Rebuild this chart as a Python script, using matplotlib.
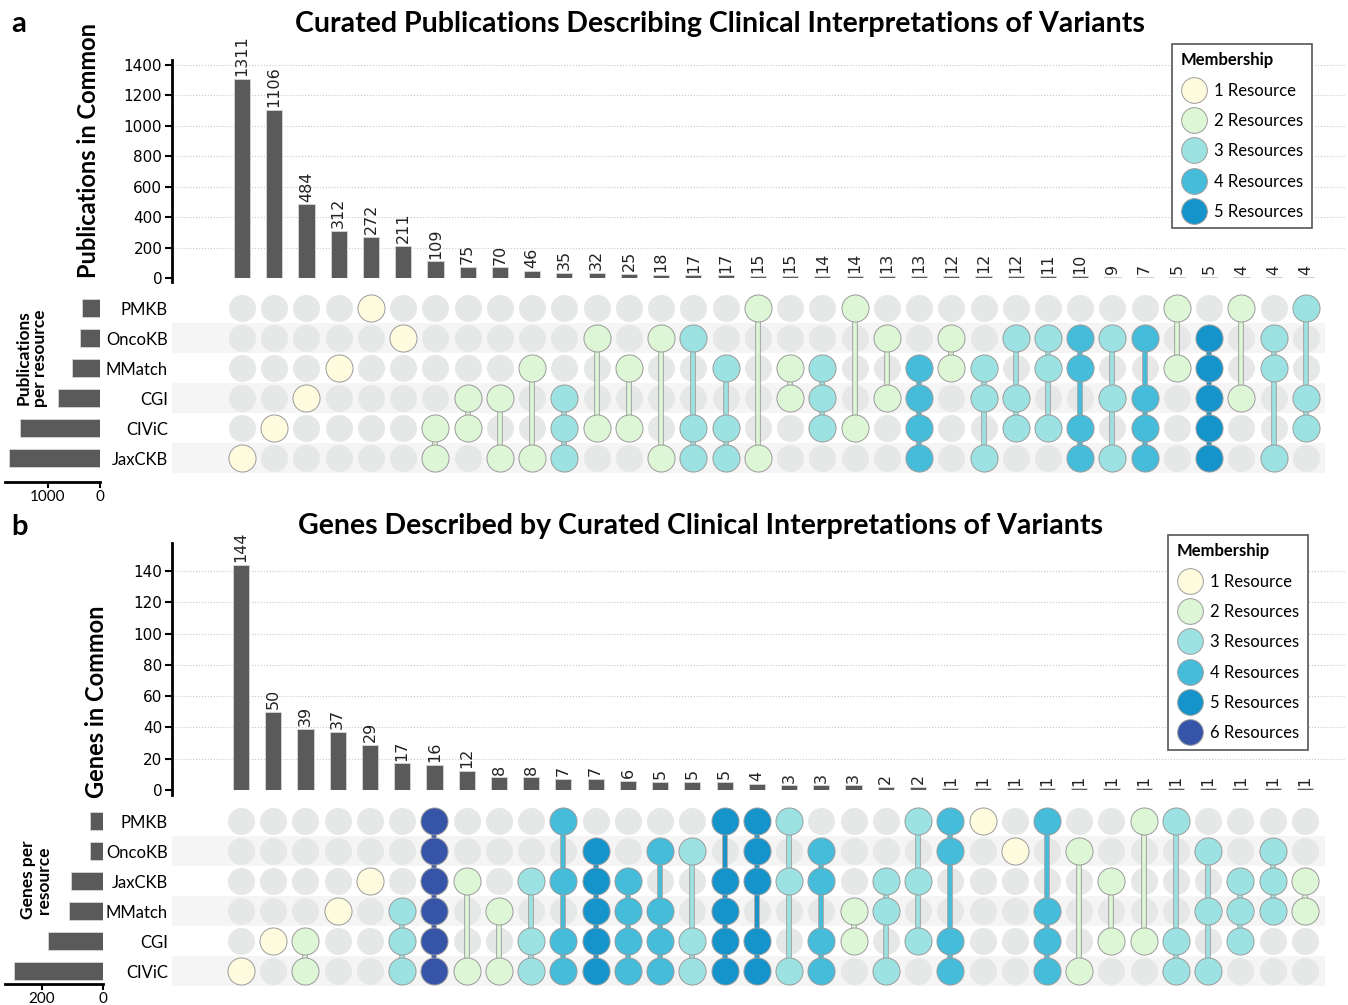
import matplotlib
matplotlib.use('Agg')
import matplotlib.pyplot as plt
from matplotlib.lines import Line2D
from matplotlib.patches import Rectangle

plt.rcParams['font.family'] = ['Lato', 'DejaVu Sans']

W, H = 1348, 1005

# ---- panel a: publications ----
pub_resources = ['PMKB', 'OncoKB', 'MMatch', 'CGI', 'CIViC', 'JaxCKB']
pub_per_resource = [342, 387, 529, 800, 1535, 1742]
pub_counts = [1311, 1106, 484, 312, 272, 211, 109, 75, 70, 46, 35, 32, 25, 18, 17, 17,
              15, 15, 14, 14, 13, 13, 12, 12, 12, 11, 10, 9, 7, 5, 5, 4, 4, 4]
pub_sets = [
    ['JaxCKB'], ['CIViC'], ['CGI'], ['MMatch'], ['PMKB'], ['OncoKB'],
    ['CIViC', 'JaxCKB'], ['CGI', 'CIViC'], ['CGI', 'JaxCKB'], ['MMatch', 'JaxCKB'],
    ['CGI', 'CIViC', 'JaxCKB'], ['OncoKB', 'CIViC'], ['MMatch', 'CIViC'],
    ['OncoKB', 'JaxCKB'], ['OncoKB', 'CIViC', 'JaxCKB'], ['MMatch', 'CIViC', 'JaxCKB'],
    ['PMKB', 'JaxCKB'], ['MMatch', 'CGI'], ['MMatch', 'CGI', 'CIViC'], ['PMKB', 'CIViC'],
    ['OncoKB', 'CGI'], ['MMatch', 'CGI', 'CIViC', 'JaxCKB'], ['OncoKB', 'MMatch'],
    ['MMatch', 'CGI', 'JaxCKB'], ['OncoKB', 'CGI', 'CIViC'], ['OncoKB', 'MMatch', 'CIViC'],
    ['OncoKB', 'MMatch', 'CIViC', 'JaxCKB'], ['OncoKB', 'CGI', 'JaxCKB'],
    ['OncoKB', 'CGI', 'CIViC', 'JaxCKB'], ['PMKB', 'MMatch'],
    ['OncoKB', 'MMatch', 'CGI', 'CIViC', 'JaxCKB'], ['PMKB', 'CGI'],
    ['OncoKB', 'MMatch', 'JaxCKB'], ['PMKB', 'CGI', 'CIViC'],
]

# ---- panel b: genes ----
gene_resources = ['PMKB', 'OncoKB', 'JaxCKB', 'MMatch', 'CGI', 'CIViC']
genes_per_resource = [41, 43, 106, 110, 180, 292]
gene_counts = [144, 50, 39, 37, 29, 17, 16, 12, 8, 8, 7, 7, 6, 5, 5, 5, 4, 3, 3, 3, 2, 2,
               1, 1, 1, 1, 1, 1, 1, 1, 1, 1, 1, 1]
gene_sets = [
    ['CIViC'], ['CGI'], ['CGI', 'CIViC'], ['MMatch'], ['JaxCKB'],
    ['MMatch', 'CGI', 'CIViC'], ['PMKB', 'OncoKB', 'JaxCKB', 'MMatch', 'CGI', 'CIViC'],
    ['JaxCKB', 'CIViC'], ['MMatch', 'CIViC'], ['JaxCKB', 'CGI', 'CIViC'],
    ['PMKB', 'JaxCKB', 'CGI', 'CIViC'], ['OncoKB', 'JaxCKB', 'MMatch', 'CGI', 'CIViC'],
    ['JaxCKB', 'MMatch', 'CGI', 'CIViC'], ['OncoKB', 'MMatch', 'CGI', 'CIViC'],
    ['OncoKB', 'CGI', 'CIViC'], ['PMKB', 'JaxCKB', 'MMatch', 'CGI', 'CIViC'],
    ['PMKB', 'OncoKB', 'JaxCKB', 'CGI', 'CIViC'], ['PMKB', 'JaxCKB', 'CIViC'],
    ['OncoKB', 'JaxCKB', 'CGI', 'CIViC'], ['MMatch', 'CGI'], ['JaxCKB', 'MMatch', 'CIViC'],
    ['PMKB', 'JaxCKB', 'CGI'], ['PMKB', 'OncoKB', 'CGI', 'CIViC'], ['PMKB'], ['OncoKB'],
    ['PMKB', 'MMatch', 'CGI', 'CIViC'], ['OncoKB', 'CIViC'], ['JaxCKB', 'CGI'],
    ['PMKB', 'CGI'], ['PMKB', 'CGI', 'CIViC'], ['OncoKB', 'MMatch', 'CIViC'],
    ['JaxCKB', 'MMatch', 'CGI'], ['OncoKB', 'JaxCKB', 'MMatch'], ['JaxCKB', 'MMatch'],
]

membership_colors = ['#FFFBDF', '#DDF6D6', '#9DE2E2', '#45BCDA', '#1594CB', '#3655A9']
legend_labels = ['1 Resource', '2 Resources', '3 Resources', '4 Resources',
                 '5 Resources', '6 Resources']

BAR_COLOR = '#5A5A5A'
DOT_GREY = '#E6E7E7'
STRIPE = '#F5F5F5'
EDGE = '#9C9C9C'


def px_rect(x0, y0, x1, y1):
    return [x0 / W, 1 - y1 / H, (x1 - x0) / W, (y1 - y0) / H]


fig = plt.figure(figsize=(W / 100, H / 100), dpi=100)


def draw_upset(top, col0, counts, sets, resources, per_resource, ymax, yticks,
               size_ticks, size_xmax, size_right, size_bottom, ylabel, size_label,
               size_label_xy, ylabel_xy, title, title_xy, letter, letter_xy, n_legend,
               legend_xy):
    step = 32.24
    xlim = ((172 - col0) / step, (1345 - col0) / step)
    stripe_right = (1325 - col0) / step
    x = list(range(len(counts)))

    # intersection bars
    axb = fig.add_axes(px_rect(172, top, 1345, top + 218 if ymax > 200 else top + 247))
    axb.bar(x, counts, width=0.5, color=BAR_COLOR, edgecolor='#D5D5D5', linewidth=0.6)
    for xi, c in zip(x, counts):
        axb.annotate(str(c), (xi, c), xytext=(0, 2), textcoords='offset points',
                     rotation=90, ha='center', va='bottom', fontsize=11.5,
                     family='DejaVu Sans', color='#222222')
    axb.set_xlim(*xlim)
    axb.set_ylim(0, ymax)
    axb.set_yticks(yticks)
    axb.tick_params(axis='y', labelsize=11, length=5, width=1.5, pad=2)
    for lab in axb.get_yticklabels():
        lab.set_family('DejaVu Sans')
    axb.set_xticks([])
    for s in ['top', 'right', 'bottom']:
        axb.spines[s].set_visible(False)
    axb.spines['left'].set_linewidth(2)
    axb.spines['left'].set_bounds(-ymax * 0.02, ymax)
    axb.yaxis.grid(True, linestyle=':', color='#C8C8C8', linewidth=0.8)
    axb.set_axisbelow(True)

    # membership matrix
    mtop = top + 233 if ymax > 200 else top + 263
    axm = fig.add_axes(px_rect(172, mtop, 1345, mtop + 180))
    axm.set_xlim(*xlim)
    axm.set_ylim(5.5, -0.5)
    for r in range(len(resources)):
        if r % 2 == 1:
            axm.add_patch(Rectangle((xlim[0], r - 0.5), stripe_right - xlim[0], 1,
                                    color=STRIPE, zorder=0, linewidth=0))
    for xi, members in zip(x, sets):
        rows = [resources.index(m) for m in members]
        col = membership_colors[len(rows) - 1]
        axm.scatter([xi] * len(resources), range(len(resources)), s=380, color=DOT_GREY,
                    linewidth=0, zorder=1)
        if len(rows) > 1:
            axm.plot([xi, xi], [min(rows), max(rows)], color=EDGE, linewidth=4.0,
                     solid_capstyle='butt', zorder=2)
            axm.plot([xi, xi], [min(rows), max(rows)], color=col, linewidth=2.7,
                     solid_capstyle='butt', zorder=3)
        axm.scatter([xi] * len(rows), rows, s=380, color=col, edgecolor=EDGE,
                    linewidth=0.7, zorder=4)
    axm.set_xticks([])
    axm.set_yticks(range(len(resources)))
    axm.set_yticklabels(resources, fontsize=12)
    axm.tick_params(axis='y', length=0, pad=3)
    for s in axm.spines.values():
        s.set_visible(False)

    # set sizes
    axs = fig.add_axes(px_rect(5, mtop, size_right, size_bottom))
    rows_extra = (size_bottom - mtop) / 30.0 - 0.5
    axs.barh(range(len(resources)), per_resource, height=0.6, color=BAR_COLOR,
             edgecolor='#D5D5D5', linewidth=0.6)
    axs.set_ylim(rows_extra, -0.5)
    axs.set_xlim(size_xmax, 0)
    axs.set_xticks(size_ticks)
    axs.tick_params(axis='x', labelsize=11, length=4, width=1.5, pad=2)
    axs.set_yticks([])
    for s in ['top', 'left', 'right']:
        axs.spines[s].set_visible(False)
    axs.spines['bottom'].set_linewidth(2)

    fig.text(size_label_xy[0] / W, 1 - size_label_xy[1] / H, size_label, rotation=90,
             ha='center', va='center', fontsize=12.5, fontweight='bold',
             multialignment='center', linespacing=1.0)
    fig.text(ylabel_xy[0] / W, 1 - ylabel_xy[1] / H, ylabel, rotation=90,
             ha='center', va='center', fontsize=17, fontweight='bold')
    fig.text(title_xy[0] / W, 1 - title_xy[1] / H, title, ha='center', va='center',
             fontsize=20.5, fontweight='bold')
    fig.text(letter_xy[0] / W, 1 - letter_xy[1] / H, letter, ha='left', va='center',
             fontsize=21, fontweight='bold')

    handles = [Line2D([], [], marker='o', linestyle='', markersize=18.5,
                      markerfacecolor=c, markeredgecolor=EDGE, markeredgewidth=0.7)
               for c in membership_colors[:n_legend]]
    leg = fig.legend(handles, legend_labels[:n_legend], loc='upper left',
                     bbox_to_anchor=(legend_xy[0] / W, 1 - legend_xy[1] / H),
                     title='Membership', alignment='left', fontsize=12,
                     title_fontproperties={'weight': 'bold', 'size': 12},
                     fancybox=False, edgecolor='#555555', framealpha=1,
                     labelspacing=0.86, handletextpad=0.45, borderpad=0.5,
                     handlelength=1.6, borderaxespad=0)
    leg.get_frame().set_linewidth(1.2)


draw_upset(top=60, col0=242, counts=pub_counts, sets=pub_sets, resources=pub_resources,
           per_resource=pub_per_resource, ymax=1433,
           yticks=[0, 200, 400, 600, 800, 1000, 1200, 1400],
           size_ticks=[1000, 0], size_xmax=1827, size_right=100, size_bottom=482,
           ylabel='Publications in Common', size_label='Publications\nper resource',
           size_label_xy=(32, 358), ylabel_xy=(89, 150),
           title='Curated Publications Describing Clinical Interpretations of Variants',
           title_xy=(720, 24), letter='a', letter_xy=(11, 24), n_legend=5,
           legend_xy=(1172, 44))

draw_upset(top=543, col0=241, counts=gene_counts, sets=gene_sets, resources=gene_resources,
           per_resource=genes_per_resource, ymax=158,
           yticks=[0, 20, 40, 60, 80, 100, 120, 140],
           size_ticks=[200, 0], size_xmax=321, size_right=103, size_bottom=984,
           ylabel='Genes in Common', size_label='Genes per\nresource',
           size_label_xy=(36, 880), ylabel_xy=(96, 702),
           title='Genes Described by Curated Clinical Interpretations of Variants',
           title_xy=(700, 526), letter='b', letter_xy=(11, 527), n_legend=6,
           legend_xy=(1168, 535))

fig.savefig('out.png', dpi=100)
